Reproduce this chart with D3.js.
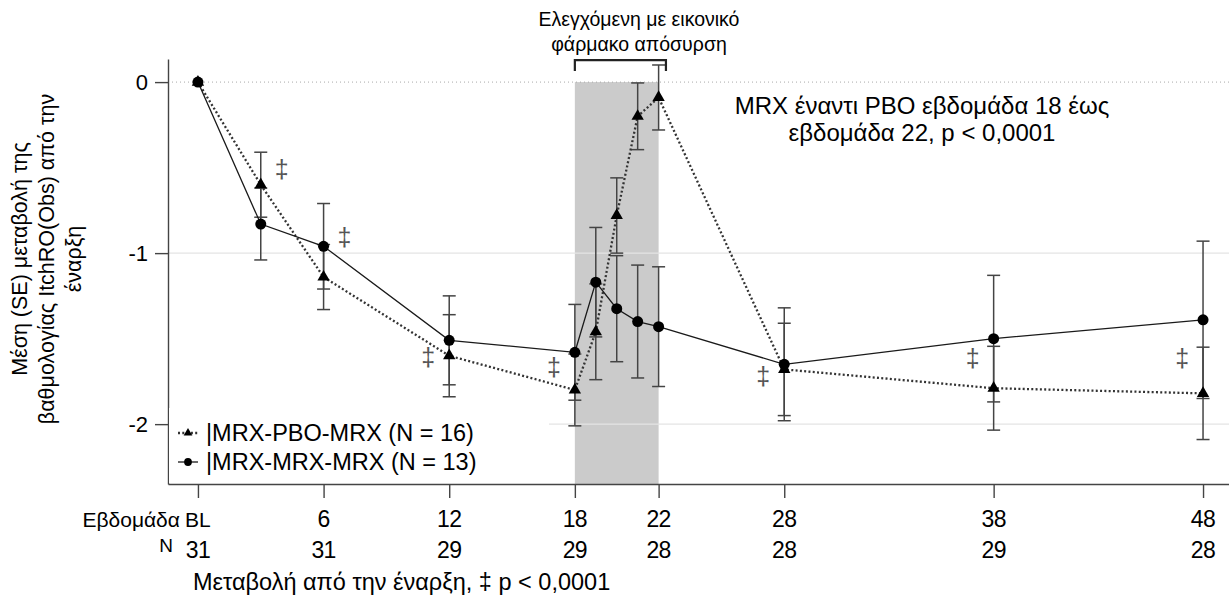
<!DOCTYPE html>
<html>
<head>
<meta charset="utf-8">
<script src="https://cdn.jsdelivr.net/npm/d3@7"></script>
<style>
    body { margin: 0; background: #fff; }
    svg { font-family: "Liberation Sans", Arial, sans-serif; }
    .narrow { font-family: "Liberation Sans Narrow", "Arial Narrow", "Liberation Sans", sans-serif; letter-spacing: -0.6px; }
</style>
</head>
<body>
<div id="vis"></div>
<script>
'use strict';

//data (weeks from baseline)
var weeks = [0, 3, 6, 12, 18, 19, 20, 21, 22, 28, 38, 48];
var pboMean = [0, -0.60, -1.14, -1.60, -1.80, -1.46, -0.78, -0.20, -0.09, -1.68, -1.79, -1.82];
var pboSE = [0, 0.19, 0.19, 0.24, 0.21, 0.28, 0.22, 0.195, 0.19, 0.27, 0.245, 0.27];
var mrxMean = [0, -0.83, -0.96, -1.51, -1.58, -1.17, -1.325, -1.40, -1.43, -1.65, -1.50, -1.39];
var mrxSE = [0, 0.21, 0.25, 0.26, 0.28, 0.32, 0.31, 0.33, 0.35, 0.33, 0.37, 0.46];

var tickWeeks = [0, 6, 12, 18, 22, 28, 38, 48];
var tickLabels = ['BL', '6', '12', '18', '22', '28', '38', '48'];
var nCounts = [31, 31, 29, 29, 28, 28, 29, 28];
var yTicks = [0, -1, -2];

var daggerWeeks = [4, 7, 11, 17, 27, 37, 47];
var daggerValues = [-0.51, -0.91, -1.61, -1.665, -1.72, -1.615, -1.615];

var withdrawal = [18, 22];
var legendLabels = ['|MRX-PBO-MRX (N = 16)', '|MRX-MRX-MRX (N = 13)'];

//layout
var width = 1229, height = 596;
var margin = { top: 59, right: 0, bottom: 112, left: 168 };
var dim = { w: width - margin.left - margin.right, h: height - margin.top - margin.bottom };

var x = d3.scaleLinear().domain([-1.43, 49.24]).range([0, dim.w]);
var y = d3.scaleLinear().domain([-2.35, 0.135]).range([dim.h, 0]);

var series = [
    { key: 'pbo', mean: pboMean, se: pboSE, shape: d3.symbolTriangle, size: 66, dash: '2,2.3', width: 2.3, color: '#333' },
    { key: 'mrx', mean: mrxMean, se: mrxSE, shape: d3.symbolCircle, size: 95, dash: null, width: 1.3, color: '#1a1a1a' }
];

var root = d3.select('#vis').append('svg')
    .attr('width', width)
    .attr('height', height);
var svg = root.append('g')
    .attr('transform', 'translate(' + margin.left + ', ' + margin.top + ')');

//withdrawal period shading
svg.append('rect')
    .attr('x', x(withdrawal[0]))
    .attr('y', y(0))
    .attr('width', x(withdrawal[1]) - x(withdrawal[0]))
    .attr('height', dim.h - y(0))
    .style('fill', '#cbcbcb');

//grid
svg.selectAll('.grid')
    .data(yTicks.filter(function (d) { return d !== 0; }))
    .enter()
    .append('line')
    .attr('x1', 0)
    .attr('x2', dim.w)
    .attr('y1', function (d) { return y(d); })
    .attr('y2', function (d) { return y(d); })
    .style('stroke', '#e4e4e4')
    .style('stroke-width', 1.2);
svg.append('line')
    .attr('x1', 0)
    .attr('x2', dim.w)
    .attr('y1', y(0))
    .attr('y2', y(0))
    .style('stroke', '#aaa')
    .style('stroke-width', 1)
    .style('stroke-dasharray', '1,3');

//axes
var yAxis = d3.axisLeft(y).tickValues(yTicks).tickSize(13).tickSizeOuter(0).tickPadding(7)
    .tickFormat(function (d) { return String(d); });
var gy = svg.append('g').call(yAxis);
gy.selectAll('text').style('font-size', '22px').style('fill', '#000');

var xAxis = d3.axisBottom(x).tickValues(tickWeeks).tickSize(14).tickSizeOuter(0).tickFormat('');
var gx = svg.append('g').attr('transform', 'translate(0, ' + dim.h + ')').call(xAxis);

[gx, gy].forEach(function (g) {
    g.selectAll('path, line').style('stroke', '#444').style('stroke-width', 1.4);
});

//x labels: week row and N row
svg.selectAll('.wk')
    .data(tickWeeks)
    .enter()
    .append('text')
    .attr('class', function (d, i) { return i === 0 ? 'wk' : 'wk narrow'; })
    .attr('x', function (d) { return x(d); })
    .attr('y', dim.h + 43)
    .attr('text-anchor', 'middle')
    .style('font-size', function (d, i) { return i === 0 ? '21px' : '23px'; })
    .text(function (d, i) { return tickLabels[i]; });
svg.selectAll('.nrow')
    .data(tickWeeks)
    .enter()
    .append('text')
    .attr('class', 'nrow narrow')
    .attr('x', function (d) { return x(d); })
    .attr('y', dim.h + 74)
    .attr('text-anchor', 'middle')
    .style('font-size', '23px')
    .text(function (d, i) { return nCounts[i]; });
svg.append('text')
    .attr('x', x(0) - 18)
    .attr('y', dim.h + 43)
    .attr('text-anchor', 'end')
    .style('font-size', '21px')
    .text('Εβδομάδα');
svg.append('text')
    .attr('x', x(0) - 25)
    .attr('y', dim.h + 68)
    .attr('text-anchor', 'end')
    .style('font-size', '19px')
    .text('N');
svg.append('text')
    .attr('x', x(0) - 5)
    .attr('y', dim.h + 106)
    .style('font-size', '23.5px')
    .text('Μεταβολή από την έναρξη, ‡ p < 0,0001');

//y title
var yTitle = ['Μέση (SE) μεταβολή της', 'βαθμολογίας ItchRO(Obs) από την', 'έναρξη'];
root.selectAll('.ytitle')
    .data(yTitle)
    .enter()
    .append('text')
    .attr('transform', function (d, i) { return 'translate(' + (19 + i * 27) + ', 259) rotate(-90)'; })
    .attr('text-anchor', 'middle')
    .attr('dy', '0.35em')
    .style('font-size', '21.5px')
    .text(function (d) { return d; });

//significance markers
svg.selectAll('.dagger')
    .data(daggerWeeks)
    .enter()
    .append('text')
    .attr('x', function (d) { return x(d); })
    .attr('y', function (d, i) { return y(daggerValues[i]); })
    .attr('dy', '0.35em')
    .attr('text-anchor', 'middle')
    .style('font-size', '25px')
    .style('fill', '#555')
    .text('‡');

//error bars
series.forEach(function (s) {
    var g = svg.append('g').attr('class', 'err-' + s.key);
    weeks.forEach(function (w, i) {
        if (!s.se[i]) { return; }
        var top = y(s.mean[i] + s.se[i]);
        var bot = y(s.mean[i] - s.se[i]);
        g.append('line').attr('x1', x(w)).attr('x2', x(w)).attr('y1', top).attr('y2', bot);
        g.append('line').attr('x1', x(w) - 6.5).attr('x2', x(w) + 6.5).attr('y1', top).attr('y2', top);
        g.append('line').attr('x1', x(w) - 6.5).attr('x2', x(w) + 6.5).attr('y1', bot).attr('y2', bot);
    });
    g.selectAll('line').style('stroke', '#444').style('stroke-width', 1.5);
});

//lines and markers
var line = d3.line()
    .x(function (d) { return x(d[0]); })
    .y(function (d) { return y(d[1]); });
series.forEach(function (s) {
    svg.append('path')
        .datum(weeks.map(function (w, i) { return [w, s.mean[i]]; }))
        .attr('d', line)
        .style('fill', 'none')
        .style('stroke', s.color)
        .style('stroke-width', s.width)
        .style('stroke-dasharray', s.dash);
});
series.forEach(function (s) {
    svg.selectAll('.pt-' + s.key)
        .data(weeks)
        .enter()
        .append('path')
        .attr('class', 'pt-' + s.key)
        .attr('d', d3.symbol().type(s.shape).size(s.size))
        .attr('transform', function (d, i) { return 'translate(' + x(d) + ', ' + y(s.mean[i]) + ')'; })
        .style('fill', '#000');
});

//withdrawal bracket and labels
svg.append('path')
    .attr('d', 'M' + x(withdrawal[0]) + ',' + (y(0) - 11) + 'V' + (y(0) - 22) +
        'H' + x(withdrawal[1] + 0.35) + 'V' + (y(0) - 11))
    .style('fill', 'none')
    .style('stroke', '#222')
    .style('stroke-width', 2.2);
root.selectAll('.wdtext')
    .data(['Ελεγχόμενη με εικονικό', 'φάρμακο απόσυρση'])
    .enter()
    .append('text')
    .attr('x', 639)
    .attr('y', function (d, i) { return 26 + i * 25; })
    .attr('text-anchor', 'middle')
    .style('font-size', '19.5px')
    .text(function (d) { return d; });
root.selectAll('.ptext')
    .data(['MRX έναντι PBO εβδομάδα 18 έως', 'εβδομάδα 22, p < 0,0001'])
    .enter()
    .append('text')
    .attr('x', 922)
    .attr('y', function (d, i) { return 114 + i * 27; })
    .attr('text-anchor', 'middle')
    .style('font-size', '24px')
    .text(function (d) { return d; });

//legend
var lg = root.append('g');
lg.append('rect')
    .attr('x', 169).attr('y', 408).attr('width', 380).attr('height', 75)
    .style('fill', '#fff');
series.forEach(function (s, i) {
    var cy = 433 + i * 29;
    lg.append('line')
        .attr('x1', 178).attr('x2', 198).attr('y1', cy).attr('y2', cy)
        .style('stroke', s.color)
        .style('stroke-width', s.width)
        .style('stroke-dasharray', s.dash);
    lg.append('path')
        .attr('d', d3.symbol().type(s.shape).size(s.size * 0.5))
        .attr('transform', 'translate(188, ' + cy + ')')
        .style('fill', '#000');
    lg.append('text')
        .attr('x', 206)
        .attr('y', cy + 8)
        .style('font-size', '23.5px')
        .text(legendLabels[i]);
});
</script>
</body>
</html>
